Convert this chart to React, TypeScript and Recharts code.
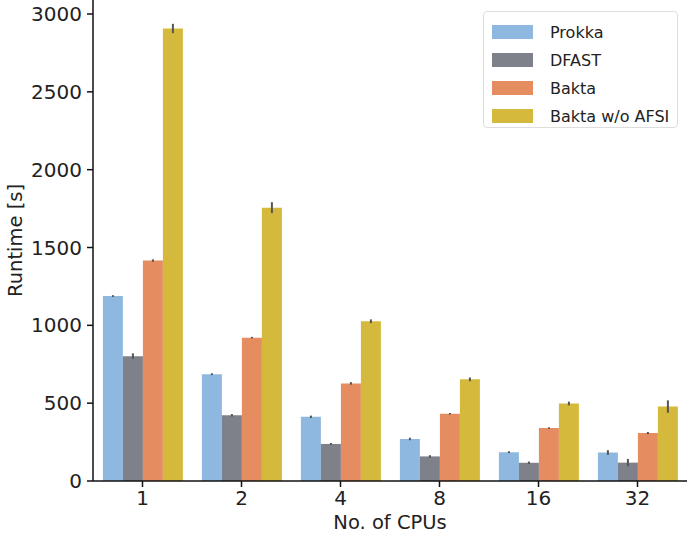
import { BarChart, Bar, XAxis, YAxis, ErrorBar } from 'recharts';

const cpus = ['1', '2', '4', '8', '16', '32'];
const prokka = [1188, 686, 412, 270, 185, 183];
const prokkaErr = [6, 6, 8, 8, 6, 15];
const dfast = [802, 422, 238, 158, 117, 118];
const dfastErr = [18, 8, 6, 8, 8, 24];
const bakta = [1416, 921, 627, 432, 340, 308];
const baktaErr = [8, 5, 8, 5, 5, 7];
const baktaNoAfsi = [2907, 1756, 1026, 653, 498, 478];
const baktaNoAfsiErr = [30, 35, 12, 12, 12, 40];
const yTicks = [0, 500, 1000, 1500, 2000, 2500, 3000];

const series = [
  { key: 'prokka', name: 'Prokka', color: '#8eb8e0' },
  { key: 'dfast', name: 'DFAST', color: '#7e8189' },
  { key: 'bakta', name: 'Bakta', color: '#e68c61' },
  { key: 'noafsi', name: 'Bakta w/o AFSI', color: '#d5b93c' },
];

const data = cpus.map((c, i) => ({
  cpu: c,
  prokka: prokka[i],
  prokkaErr: prokkaErr[i],
  dfast: dfast[i],
  dfastErr: dfastErr[i],
  bakta: bakta[i],
  baktaErr: baktaErr[i],
  noafsi: baktaNoAfsi[i],
  noafsiErr: baktaNoAfsiErr[i],
}));

const font = 'DejaVu Sans, sans-serif';

function LegendBox() {
  return (
    <div
      style={{
        position: 'absolute',
        left: 483,
        top: 11,
        width: 195,
        height: 117,
        border: '1px solid #ddd',
        borderRadius: 4,
        background: '#fff',
        boxSizing: 'border-box',
        padding: '6px 0 0 8px',
        fontFamily: font,
        fontSize: 16,
        color: '#222',
      }}
    >
      {series.map(s => (
        <div key={s.key} style={{ display: 'flex', alignItems: 'center', height: 28 }}>
          <div style={{ width: 41, height: 14, background: s.color, marginRight: 17 }} />
          <span>{s.name}</span>
        </div>
      ))}
    </div>
  );
}

const YLabel = (props: any) => {
  const vb = props.viewBox;
  const cy = vb.y + vb.height / 2;
  return (
    <text x={15} y={cy} transform={`rotate(-90, 15, ${cy})`} textAnchor="middle" dominantBaseline="central" fill="#222" fontSize={19.5} fontFamily={font}>
      Runtime [s]
    </text>
  );
};

export default function App() {
  return (
    <div style={{ position: 'absolute', left: 0, top: 0, width: 689, height: 539, background: '#fff' }}>
      <BarChart
        width={689}
        height={539}
        data={data}
        margin={{ top: 0, right: 2, left: 0, bottom: 0 }}
        barCategoryGap="10%"
        barGap={0}
      >
        <XAxis
          dataKey="cpu"
          height={58}
          tickSize={6}
          tickMargin={4}
          stroke="#111"
          strokeWidth={1.5}
          tick={{ fill: '#222', fontSize: 20, fontFamily: font }}
          label={{ value: 'No. of CPUs', position: 'insideBottom', offset: 10, fill: '#222', fontSize: 19.5, fontFamily: font }}
        />
        <YAxis
          width={93}
          domain={[0, 3090]}
          ticks={yTicks}
          tickSize={6}
          tickMargin={5}
          stroke="#111"
          strokeWidth={1.5}
          tick={{ fill: '#222', fontSize: 20, fontFamily: font }}
          label={<YLabel />}
        />
        {series.map(s => (
          <Bar key={s.key} dataKey={s.key} name={s.name} fill={s.color} isAnimationActive={false}>
            <ErrorBar dataKey={s.key + 'Err'} width={0} stroke="#555" strokeWidth={2} />
          </Bar>
        ))}
      </BarChart>
      <LegendBox />
    </div>
  );
}
